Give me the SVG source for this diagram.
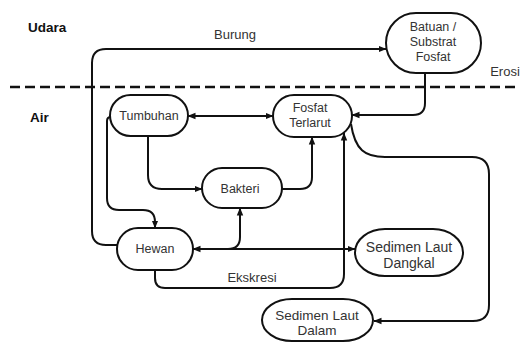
<svg xmlns="http://www.w3.org/2000/svg" width="524" height="342" viewBox="0 0 524 342">
<style>
.node{fill:#fff;stroke:#111;stroke-width:2}
.t{font-family:"Liberation Sans",Arial,sans-serif;font-size:12.5px;fill:#333;text-anchor:middle}
.lbl{font-family:"Liberation Sans",Arial,sans-serif;font-size:13px;fill:#333}
.zone{font-family:"Liberation Sans",Arial,sans-serif;font-size:13.5px;font-weight:bold;fill:#111}
.c{fill:none;stroke:#111;stroke-width:2}
</style>
<defs>
<marker id="ah" viewBox="0 0 8 8" refX="7.5" refY="4" markerWidth="8" markerHeight="8" markerUnits="userSpaceOnUse" orient="auto-start-reverse">
<path d="M0,0.8 L8,4 L0,7.2 Z" fill="#111"/>
</marker>
</defs>
<rect width="524" height="342" fill="#fff"/>
<line x1="10" y1="87" x2="516" y2="87" stroke="#111" stroke-width="2.5" stroke-dasharray="10,5"/>
<text class="zone" x="28" y="32">Udara</text>
<text class="zone" x="30" y="122">Air</text>
<text class="lbl" x="235" y="39" text-anchor="middle">Burung</text>
<text class="lbl" x="505" y="76" text-anchor="middle">Erosi</text>
<text class="lbl" x="252" y="282" text-anchor="middle">Ekskresi</text>
<g id="connectors">
<path class="c" d="M118,245 L106,245 Q92,245 92,231 L92,63 Q92,49 106,49 L386,49" marker-end="url(#ah)"/>
<path class="c" d="M425,73 L425,103 Q425,115 413,115 L352,115" marker-end="url(#ah)"/>
<path class="c" d="M188,116 L273,116" marker-start="url(#ah)" marker-end="url(#ah)"/>
<path class="c" d="M148,136 L148,175 Q148,189 162,189 L202,189" marker-end="url(#ah)"/>
<path class="c" d="M282,189 L300,189 Q312,189 312,177 L312,137" marker-end="url(#ah)"/>
<path class="c" d="M111,117 Q107,117 107,121 L107,198 Q107,210 119,210 L143,210 Q155,210 155,222 L155,228" marker-end="url(#ah)"/>
<path class="c" d="M193,249 L228,249 Q240,249 240,237 L240,208" marker-start="url(#ah)" marker-end="url(#ah)"/>
<path class="c" d="M228,249 L355,249" marker-end="url(#ah)"/>
<path class="c" d="M155,270 L155,278 Q155,288 165,288 L330,288 Q344,288 344,274 L344,133" marker-end="url(#ah)"/>
<path class="c" d="M351,124 C355,150 365,157 385,157 L472,157 Q489,157 489,174 L489,305 Q489,321 473,321 L374,321" marker-end="url(#ah)"/>
</g>
<g id="batuan">
<rect class="node" x="386" y="13" width="95" height="60" rx="30" ry="30"/>
<text class="t" x="433" y="31">Batuan /</text>
<text class="t" x="433" y="46">Substrat</text>
<text class="t" x="433" y="61">Fosfat</text>
</g>
<g id="fosfat-terlarut">
<rect class="node" x="273" y="95" width="79" height="42" rx="21" ry="21"/>
<text class="t" x="310" y="112">Fosfat</text>
<text class="t" x="310" y="127">Terlarut</text>
</g>
<g id="tumbuhan">
<rect class="node" x="110" y="95" width="78" height="41" rx="20.5" ry="20.5"/>
<text class="t" x="149" y="120">Tumbuhan</text>
</g>
<g id="bakteri">
<rect class="node" x="202" y="168" width="80" height="40" rx="20" ry="20"/>
<text class="t" x="240" y="193">Bakteri</text>
</g>
<g id="hewan">
<rect class="node" x="117" y="228" width="76" height="42" rx="21" ry="21"/>
<text class="t" x="155" y="253">Hewan</text>
</g>
<g id="sedimen-dangkal">
<rect class="node" x="355" y="229" width="108" height="47" rx="30" ry="23.5"/>
<text class="t" x="409" y="252" style="font-size:14px">Sedimen Laut</text>
<text class="t" x="409" y="268" style="font-size:14px">Dangkal</text>
</g>
<g id="sedimen-dalam">
<rect class="node" x="262" y="299" width="111" height="42" rx="30" ry="21"/>
<text class="t" x="317" y="320" style="font-size:13.5px">Sedimen Laut</text>
<text class="t" x="317" y="335" style="font-size:13.5px">Dalam</text>
</g>
</svg>
